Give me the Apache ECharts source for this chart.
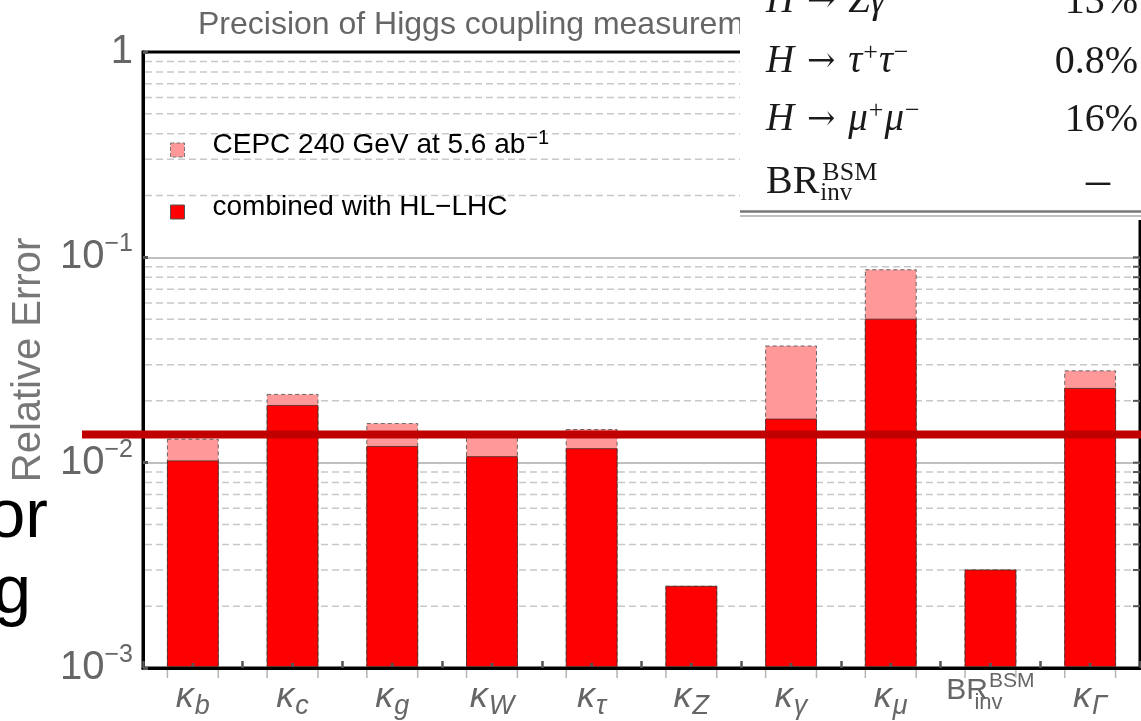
<!DOCTYPE html>
<html>
<head>
<meta charset="utf-8">
<script src="https://cdn.jsdelivr.net/npm/echarts@6/dist/echarts.min.js"></script>
<style>
  html, body { margin: 0; padding: 0; background: #fff; }
  #chart { width: 1141px; height: 721px; }
</style>
</head>
<body>
<div id="chart"></div>
<script>
// ---- data ----
const categories = ['κ_b', 'κ_c', 'κ_g', 'κ_W', 'κ_τ', 'κ_Z', 'κ_γ', 'κ_μ', 'BR_inv^BSM', 'κ_Γ'];
const seriesNames = ['CEPC 240 GeV at 5.6 ab^−1', 'combined with HL−LHC'];
const cepcError     = [0.013,  0.0215, 0.0155, 0.014,  0.0145, 0.0025, 0.037,  0.087, 0.003, 0.028];
const combinedError = [0.0102, 0.019,  0.012,  0.0107, 0.0117, 0.0025, 0.0163, 0.05,  0.003, 0.023];
const yMin = 0.001;
const yMax = 1;
const gridDecades = [0.001, 0.01, 0.1];
const gridMultipliers = [2, 3, 4, 5, 6, 7, 8, 9];
const majorGrid = [0.01, 0.1];
const highlightLevel = 0.0137;
const tableRows = [
  { label: '{i|H}{a| → }{i|Zγ}', value: '13%' },
  { label: '{i|H}{a| → }{i|τ}{sup|+}{i|τ}{sup|−}', value: '0.8%' },
  { label: '{i|H}{a| → }{i|μ}{sup|+}{i|μ}{sup|−}', value: '16%' },
  { label: '{n|BR}{sub|inv}{sup|BSM}', value: '–' }
];
const sideWords = ['or', 'g'];

// ---- helpers ----
const fontSans = "'Liberation Sans', Arial, sans-serif";
const fontSerif = "'Liberation Serif', 'DejaVu Serif', serif";
const minorGrid = gridDecades.flatMap(d => gridMultipliers.map(m => +(d * m).toPrecision(2)));
const gridMarks = minorGrid.map(v => [0, v, 0]).concat(majorGrid.map(v => [0, v, 1]));

function barRenderer(fill, stroke, dash, width, withTicks) {
  return function (params, api) {
    const idx = api.value(0);
    const top = api.coord([idx, api.value(1)]);
    const base = api.coord([idx, yMin]);
    const band = api.coord([1, yMin])[0] - api.coord([0, yMin])[0];
    const w = band * 0.51;
    const x0 = top[0] - w / 2;
    const bottom = base[1] - 1.5;
    const children = [{
      type: 'rect',
      shape: { x: x0, y: top[1], width: w, height: bottom - top[1] },
      style: { fill: fill, stroke: stroke, lineWidth: width, lineDash: dash }
    }];
    if (withTicks) {
      children.push({ type: 'rect', shape: { x: top[0] - 1.5, y: bottom - 3.5, width: 3, height: 3.5 }, style: { fill: '#555' } });
      [x0, x0 + w].forEach(x => children.push({
        type: 'line',
        shape: { x1: x, y1: base[1] + 2, x2: x, y2: base[1] + 10 },
        style: { stroke: '#b4b4b4', lineWidth: 1.5 }
      }));
    }
    return { type: 'group', children: children };
  };
}

const chart = echarts.init(document.getElementById('chart'), null, { renderer: 'canvas' });

chart.setOption({
  animation: false,
  backgroundColor: '#fff',
  title: {
    text: 'Precision of Higgs coupling measurements',
    left: 193,
    top: 4,
    textStyle: { fontFamily: fontSans, fontSize: 32, fontWeight: 'normal', color: '#666' }
  },
  legend: {
    orient: 'vertical',
    left: 170,
    top: 128,
    padding: 0,
    itemGap: 21,
    itemWidth: 14,
    itemHeight: 14,
    icon: 'rect',
    selectedMode: false,
    data: [
      { name: seriesNames[0], itemStyle: { color: '#ff9999', borderColor: '#777', borderWidth: 1, borderType: 'dashed' } },
      { name: seriesNames[1], itemStyle: { color: '#ff0000', borderColor: '#555', borderWidth: 1 } }
    ],
    formatter: name => {
      const parts = name.split('^');
      return '{gap| }{t|' + parts[0] + '}' + (parts[1] ? '{sup|' + parts[1] + '}' : '');
    },
    textStyle: {
      color: '#000',
      fontFamily: fontSans,
      rich: {
        gap: { width: 23 },
        t: { fontFamily: fontSans, fontSize: 28, color: '#000', lineHeight: 34, padding: [0, 0, 10, 0] },
        sup: { fontFamily: fontSans, fontSize: 20, color: '#000', lineHeight: 34, padding: [0, 0, 24, 1] }
      }
    }
  },
  grid: {
    left: 143, right: 1, top: 52, bottom: 53,
    show: true, borderColor: '#000', borderWidth: 3,
    outerBoundsMode: 'none'
  },
  xAxis: {
    type: 'category',
    data: categories,
    boundaryGap: true,
    axisLine: { lineStyle: { color: '#000', width: 3 } },
    axisTick: { show: true, inside: true, length: 7, lineStyle: { color: '#555', width: 2.5 } },
    splitLine: { show: false },
    axisLabel: {
      interval: 0,
      margin: 9,
      color: '#666',
      formatter: v => {
        if (v.indexOf('^') >= 0) {
          const m = v.match(/^(\w+)_(\w+)\^(\w+)$/);
          return '{br|' + m[1] + '}{lo|' + m[2] + '}{hi|' + m[3] + '}';
        }
        const p = v.split('_');
        return '{k|' + p[0] + '}{s|' + p[1] + '}';
      },
      rich: {
        k: { fontFamily: fontSans, fontStyle: 'italic', fontSize: 36, color: '#666', lineHeight: 40 },
        s: { fontFamily: fontSans, fontStyle: 'italic', fontSize: 27, color: '#666', lineHeight: 40, padding: [19, 0, 0, 1] },
        br: { fontFamily: fontSans, fontSize: 30, color: '#666', lineHeight: 40, padding: [0, 0, 13, 0] },
        lo: { fontFamily: fontSans, fontSize: 22, color: '#666', lineHeight: 40, width: 1, padding: [12, 0, 0, 0] },
        hi: { fontFamily: fontSans, fontSize: 21, color: '#666', lineHeight: 40, padding: [0, 0, 32, 0] }
      }
    }
  },
  yAxis: {
    type: 'log',
    logBase: 10,
    min: yMin,
    max: yMax,
    splitNumber: 3,
    name: 'Relative Error',
    nameLocation: 'middle',
    nameGap: 94,
    nameTextStyle: { fontFamily: fontSans, fontSize: 40, color: '#777' },
    axisLine: { show: true, lineStyle: { color: '#000', width: 3 } },
    axisTick: { show: true, inside: true, length: 5, lineStyle: { color: '#555', width: 3 } },
    splitLine: { show: true, showMaxLine: false, showMinLine: false, lineStyle: { color: '#aaa', width: 1.5 } },
    axisLabel: {
      margin: 10,
      color: '#666',
      showMinLabel: true,
      showMaxLabel: true,
      formatter: v => {
        const e = Math.round(Math.log10(v));
        return e === 0 ? '{b|1}' : '{b|10}{e|−' + (-e) + '}';
      },
      rich: {
        b: { fontFamily: fontSans, fontSize: 40, color: '#666', lineHeight: 44 },
        e: { fontFamily: fontSans, fontSize: 25, color: '#666', lineHeight: 44, padding: [0, 0, 26, 0] }
      }
    }
  },
  series: [
    {
      type: 'custom',
      name: 'grid marks',
      silent: true,
      z: 1,
      renderItem: (params, api) => {
        const y = api.coord([0, api.value(1)])[1];
        const cs = params.coordSys;
        const right = cs.x + cs.width;
        const kids = [{ type: 'line', shape: { x1: right - 7, y1: y, x2: right, y2: y }, style: { stroke: '#555', lineWidth: 2 } }];
        if (!api.value(2)) {
          kids.unshift({ type: 'line', shape: { x1: cs.x + 2, y1: y, x2: right, y2: y }, style: { stroke: '#c8c8c8', lineWidth: 1.5, lineDash: [7, 4] } });
        }
        return { type: 'group', children: kids };
      },
      encode: { x: 0, y: 1 },
      data: gridMarks
    },
    {
      type: 'custom',
      name: seriesNames[0],
      z: 2,
      itemStyle: { color: '#ff9999', borderColor: '#777', borderType: 'dashed' },
      renderItem: barRenderer('#ff9999', '#666', [4, 3], 1, false),
      encode: { x: 0, y: 1 },
      data: cepcError.map((v, i) => [i, v])
    },
    {
      type: 'custom',
      name: seriesNames[1],
      z: 3,
      itemStyle: { color: '#ff0000', borderColor: '#555' },
      renderItem: barRenderer('#ff0000', '#4a2a2a', null, 0.8, true),
      encode: { x: 0, y: 1 },
      data: combinedError.map((v, i) => [i, v])
    }
  ]
});

// ---- overlays: highlight rule, summary table, side text ----
const lineY = chart.convertToPixel({ yAxisIndex: 0 }, highlightLevel);
const rowMid = [2, 62, 120, 182];
const tableRich = {
  i: { fontFamily: fontSerif, fontStyle: 'italic', fontSize: 39, fill: '#1a1a1a', lineHeight: 44 },
  n: { fontFamily: fontSerif, fontSize: 40, fill: '#1a1a1a', lineHeight: 44 },
  a: { fontFamily: "'DejaVu Serif', serif", fontSize: 34, fill: '#1a1a1a', lineHeight: 44, padding: [0, 2, 0, 2] },
  sup: { fontFamily: fontSerif, fontSize: 26, fill: '#1a1a1a', lineHeight: 44, padding: [0, 1, 18, 1] },
  sub: { fontFamily: fontSerif, fontSize: 25, fill: '#1a1a1a', lineHeight: 44, padding: [23, 0, 0, 1], width: 1 }
};
const graphics = [
  {
    type: 'rect', z: 50, silent: true,
    shape: { x: 82, y: lineY - 4, width: 1141 - 82, height: 8 },
    style: { fill: '#c00000' }
  },
  {
    type: 'rect', z: 100, silent: true,
    shape: { x: 740, y: 0, width: 401, height: 220 },
    style: { fill: '#fff' }
  },
  {
    type: 'line', z: 101, silent: true,
    shape: { x1: 740, y1: 211.5, x2: 1141, y2: 211.5 },
    style: { stroke: '#777', lineWidth: 2.5 }
  },
  {
    type: 'line', z: 101, silent: true,
    shape: { x1: 740, y1: 216, x2: 1141, y2: 216 },
    style: { stroke: '#aaa', lineWidth: 1.5 }
  }
];
tableRows.forEach((row, r) => {
  graphics.push({
    type: 'text', z: 102, silent: true,
    style: { x: 766, y: rowMid[r], text: row.label, rich: tableRich, align: 'left', verticalAlign: 'middle',
             textAlign: 'left', textVerticalAlign: 'middle', fill: '#1a1a1a', font: '38px ' + fontSerif }
  });
  const isDash = row.value === '–';
  graphics.push({
    type: 'text', z: 102, silent: true,
    style: { x: isDash ? 1098 : 1138, y: rowMid[r], text: row.value,
             align: isDash ? 'center' : 'right', verticalAlign: 'middle',
             textAlign: isDash ? 'center' : 'right', textVerticalAlign: 'middle',
             fill: '#1a1a1a', font: (isDash ? '48px ' : '40px ') + fontSerif }
  });
});
[[sideWords[0], 48, 518], [sideWords[1], 31, 594]].forEach(([word, x, y]) => {
  graphics.push({
    type: 'text', z: 102, silent: true,
    style: { x: x, y: y, text: word, align: 'right', verticalAlign: 'middle',
             textAlign: 'right', textVerticalAlign: 'middle', fill: '#000', font: '68px ' + fontSans }
  });
});
chart.setOption({ graphic: graphics });
</script>
</body>
</html>
